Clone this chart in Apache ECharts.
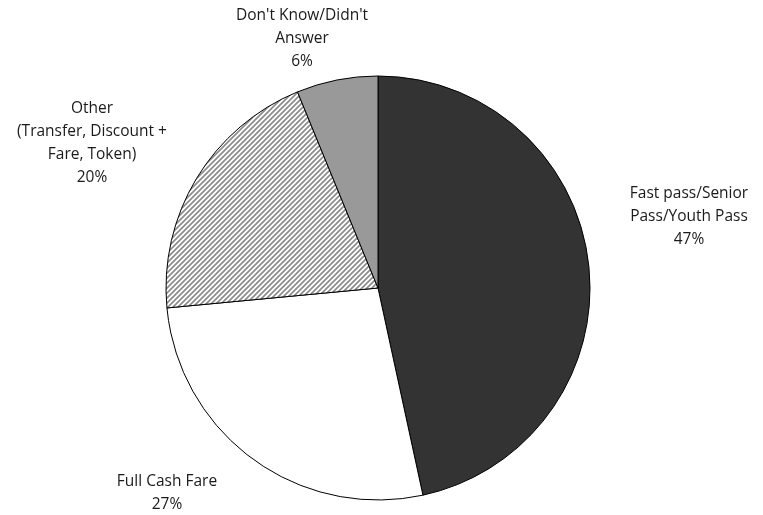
<!DOCTYPE html>
<html>
<head>
<meta charset="utf-8">
<script src="https://cdn.jsdelivr.net/npm/echarts@6/dist/echarts.min.js"></script>
<style>
html,body{margin:0;padding:0;background:#fff;}
#chart{width:763px;height:515px;}
</style>
</head>
<body>
<div id="chart"></div>
<script>
// ---- data ----
var categories = [
  "Fast pass/Senior\nPass/Youth Pass",
  "Full Cash Fare",
  "Other\n(Transfer, Discount +\nFare, Token)",
  "Don't Know/Didn't\nAnswer"
];
var values = [46.6, 26.9, 20.3, 6.2];
var percentLabels = ["47%", "27%", "20%", "6%"];

// ---- styles ----
function hatch() {
  var s = 5;
  var c = document.createElement('canvas');
  c.width = s; c.height = s;
  var g = c.getContext('2d');
  g.fillStyle = '#ffffff';
  g.fillRect(0, 0, s, s);
  g.strokeStyle = '#8c8c8c';
  g.lineWidth = 1.7;
  g.beginPath();
  g.moveTo(-1, s + 1); g.lineTo(s + 1, -1);
  g.moveTo(-1, 1); g.lineTo(1, -1);
  g.moveTo(s - 1, s + 1); g.lineTo(s + 1, s - 1);
  g.stroke();
  return c;
}
var fills = ['#333333', '#ffffff', {image: hatch(), repeat: 'repeat'}, '#999999'];
var labelPos = [[689, 217], [167, 493], [92, 143], [302, 38.5]];

var chart = echarts.init(document.getElementById('chart'), null, {renderer: 'canvas'});
chart.setOption({
  animation: false,
  backgroundColor: '#ffffff',
  series: [{
    type: 'pie',
    center: [378, 288],
    radius: 212,
    startAngle: 90,
    clockwise: true,
    avoidLabelOverlap: false,
    data: categories.map(function (n, i) {
      return {name: n, value: values[i], itemStyle: {color: fills[i]}};
    }),
    itemStyle: {borderColor: '#000', borderWidth: 1},
    emphasis: {disabled: true},
    label: {
      show: true,
      position: 'outside',
      formatter: function (p) { return p.name + '\n' + percentLabels[p.dataIndex]; },
      fontFamily: 'Open Sans, Liberation Sans, Arial, sans-serif',
      fontSize: 15.5,
      lineHeight: 23,
      color: '#1a1a1a',
      align: 'center'
    },
    labelLine: {show: false},
    labelLayout: function (p) {
      var pos = labelPos[p.dataIndex];
      return {x: pos[0], y: pos[1], align: 'center', verticalAlign: 'middle'};
    }
  }]
});
</script>
</body>
</html>
